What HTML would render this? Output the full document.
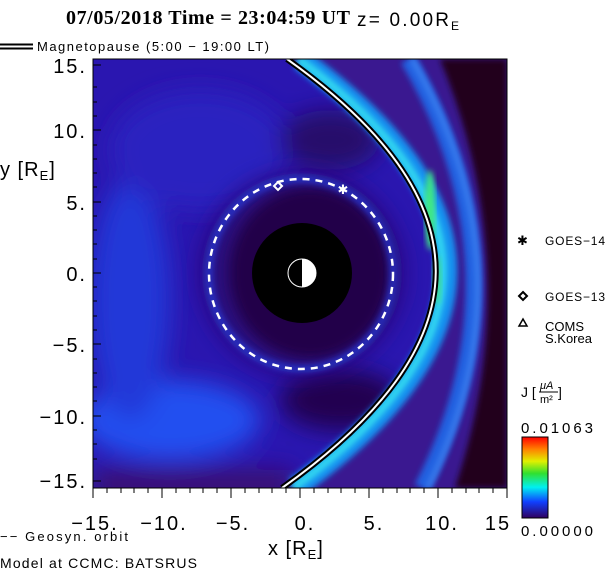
<!DOCTYPE html>
<html><head><meta charset="utf-8"><style>
body{margin:0;background:#fff;width:616px;height:574px;overflow:hidden;font-family:"Liberation Sans",sans-serif}
</style></head><body>
<svg width="616" height="574" viewBox="0 0 616 574" xmlns="http://www.w3.org/2000/svg" font-family="Liberation Sans, sans-serif">
<defs>
<clipPath id="pc"><rect x="93" y="59" width="414" height="429"/></clipPath>
<filter id="b6" x="-20%" y="-20%" width="140%" height="140%"><feGaussianBlur stdDeviation="6"/></filter>
<filter id="b3" x="-20%" y="-20%" width="140%" height="140%"><feGaussianBlur stdDeviation="3"/></filter>
<filter id="b12" x="-30%" y="-30%" width="160%" height="160%"><feGaussianBlur stdDeviation="12"/></filter>
<linearGradient id="cb" x1="0" y1="0" x2="0" y2="1">
<stop offset="0" stop-color="#ff0000"/><stop offset="0.15" stop-color="#ff8000"/><stop offset="0.3" stop-color="#e0f000"/><stop offset="0.45" stop-color="#30e030"/><stop offset="0.62" stop-color="#00f0f0"/><stop offset="0.8" stop-color="#1040ff"/><stop offset="1" stop-color="#300060"/>
</linearGradient>
</defs>
<g clip-path="url(#pc)">
<rect x="93" y="59" width="414" height="429" fill="#2a16b0"/>
<g filter="url(#b12)">
<ellipse cx="170" cy="420" rx="90" ry="40" fill="#2050f0"/>
<ellipse cx="130" cy="300" rx="40" ry="120" fill="#2438d8"/>
<ellipse cx="200" cy="150" rx="90" ry="60" fill="#2a22c0"/>
<ellipse cx="340" cy="400" rx="60" ry="30" fill="#200050"/>
<ellipse cx="330" cy="140" rx="50" ry="30" fill="#28106a"/>
<rect x="93" y="470" width="200" height="30" fill="#3a1070"/>
</g>
<path d="M287,59 Q587,272 282,488 L507,488 L507,59 Z" fill="#3a1890"/>
<path d="M440,59 Q527,272 455,488 L507,488 L507,59 Z" fill="#24001c" filter="url(#b3)"/>
<path d="M408,59 Q532,272 422,488" stroke="#2060e0" stroke-width="16" fill="none" filter="url(#b3)"/>
<path d="M412,59 Q535,272 428,488" stroke="#3a80f0" stroke-width="5" fill="none" filter="url(#b3)"/>
<path d="M300,59 Q595,272 295,488" stroke="#1890f0" stroke-width="22" fill="none" filter="url(#b3)"/>
<path d="M298,59 Q590,272 293,488" stroke="#30d8f0" stroke-width="8" fill="none" filter="url(#b3)"/>
<ellipse cx="430" cy="210" rx="5" ry="40" fill="#40e880" filter="url(#b3)"/>
<ellipse cx="437" cy="280" rx="4" ry="25" fill="#40e090" filter="url(#b3)"/>
<ellipse cx="302" cy="273" rx="100" ry="100" fill="#2a0878" filter="url(#b12)"/>
<ellipse cx="310" cy="273" rx="80" ry="85" fill="#220048" filter="url(#b6)"/>
<ellipse cx="301" cy="274" rx="92" ry="95" stroke="#2840e0" stroke-width="8" fill="none" filter="url(#b3)" opacity="0.6"/>
<path d="M287,59 Q587,272 282,488" stroke="#000" stroke-width="6" fill="none"/>
<path d="M287,59 Q587,272 282,488" stroke="#fff" stroke-width="2" fill="none"/>
<ellipse cx="301" cy="274" rx="92" ry="95" stroke="#fff" stroke-width="2.5" fill="none" stroke-dasharray="7,6"/>
<circle cx="302" cy="273" r="50" fill="#000"/>
<path d="M302,259 A14,14 0 0 1 302,287 Z" fill="#fff"/>
<circle cx="302" cy="273" r="14" stroke="#fff" stroke-width="1" fill="none"/>
<path d="M278,182 l4,4 l-4,4 l-4,-4 Z" stroke="#fff" stroke-width="2" fill="none"/>
<text x="343" y="194" fill="#fff" font-size="13" text-anchor="middle">✱</text>
</g>
<rect x="93" y="59" width="414" height="429" fill="none" stroke="#000" stroke-width="1"/>
<g stroke="#000" stroke-width="1">
<path d="M93,65h8M93,130h8M93,202h8M93,273h8M93,344h8M93,416h8M93,481h8"/>
<path d="M93,87h4M93,102h4M93,116h4M93,145h4M93,159h4M93,173h4M93,187h4M93,216h4M93,230h4M93,244h4M93,259h4M93,287h4M93,301h4M93,316h4M93,330h4M93,359h4M93,373h4M93,387h4M93,401h4M93,430h4M93,444h4M93,459h4"/>
<path d="M93,488v10M162,488v10M231,488v10M300,488v10M369,488v10M438,488v10M507,488v10"/>
<path d="M107,488v5M121,488v5M134,488v5M148,488v5M176,488v5M190,488v5M203,488v5M217,488v5M245,488v5M259,488v5M272,488v5M286,488v5M314,488v5M328,488v5M341,488v5M355,488v5M383,488v5M397,488v5M410,488v5M424,488v5M452,488v5M466,488v5M479,488v5M493,488v5"/>
</g>
<g font-size="20" fill="#000" text-anchor="end" letter-spacing="2">
<text x="87" y="73">15.</text><text x="87" y="138">10.</text><text x="87" y="210">5.</text><text x="87" y="281">0.</text><text x="87" y="352">−5.</text><text x="87" y="424">−10.</text><text x="87" y="488">−15.</text>
</g>
<g font-size="20" fill="#000" text-anchor="middle" letter-spacing="2">
<text x="95" y="530">−15.</text><text x="164" y="530">−10.</text><text x="233" y="530">−5.</text><text x="305" y="530">0.</text><text x="374" y="530">5.</text><text x="442" y="530">10.</text><text x="498" y="530">15</text>
</g>
<text x="268" y="555" font-size="20" letter-spacing="1">x [R<tspan font-size="13" dy="4">E</tspan><tspan dy="-4">]</tspan></text>
<text x="0" y="176" font-size="20" letter-spacing="1">y [R<tspan font-size="13" dy="4">E</tspan><tspan dy="-4">]</tspan></text>
<text x="66" y="24" font-family="Liberation Serif, serif" font-weight="bold" font-size="20" textLength="284">07/05/2018 Time = 23:04:59 UT</text>
<text x="357" y="26" font-size="19" textLength="92">z= 0.00R</text>
<text x="451" y="30" font-size="12">E</text>
<path d="M0,44.5h33M0,48.5h33" stroke="#000" stroke-width="2"/>
<text x="37" y="51" font-size="13" textLength="232">Magnetopause (5:00 − 19:00 LT)</text>
<text x="517" y="245" font-size="13">✱</text>
<text x="545" y="245" font-size="12" textLength="60">GOES−14</text>
<path d="M523,292 l4,4 l-4,4 l-4,-4 Z" stroke="#000" stroke-width="2" fill="none"/>
<text x="545" y="301" font-size="12" textLength="60">GOES−13</text>
<path d="M523,319 l4,7 h-8 Z" stroke="#000" stroke-width="1.5" fill="none"/>
<text x="545" y="331" font-size="13">COMS</text>
<text x="545" y="343" font-size="13">S.Korea</text>
<text x="521" y="397" font-size="14">J [</text>
<text x="540" y="389" font-size="11" font-style="italic">μA</text>
<path d="M539,392h19" stroke="#000"/>
<text x="540" y="403" font-size="11">m²</text>
<text x="558" y="397" font-size="14">]</text>
<text x="521" y="433" font-size="15" textLength="72">0.01063</text>
<rect x="522" y="437" width="26" height="81" fill="url(#cb)" stroke="#000"/>
<text x="521" y="536" font-size="15" textLength="72">0.00000</text>
<text x="0" y="541" font-size="13" textLength="128">−− Geosyn. orbit</text>
<text x="0" y="568" font-size="14" textLength="197">Model at CCMC: BATSRUS</text>
</svg>
</body></html>
